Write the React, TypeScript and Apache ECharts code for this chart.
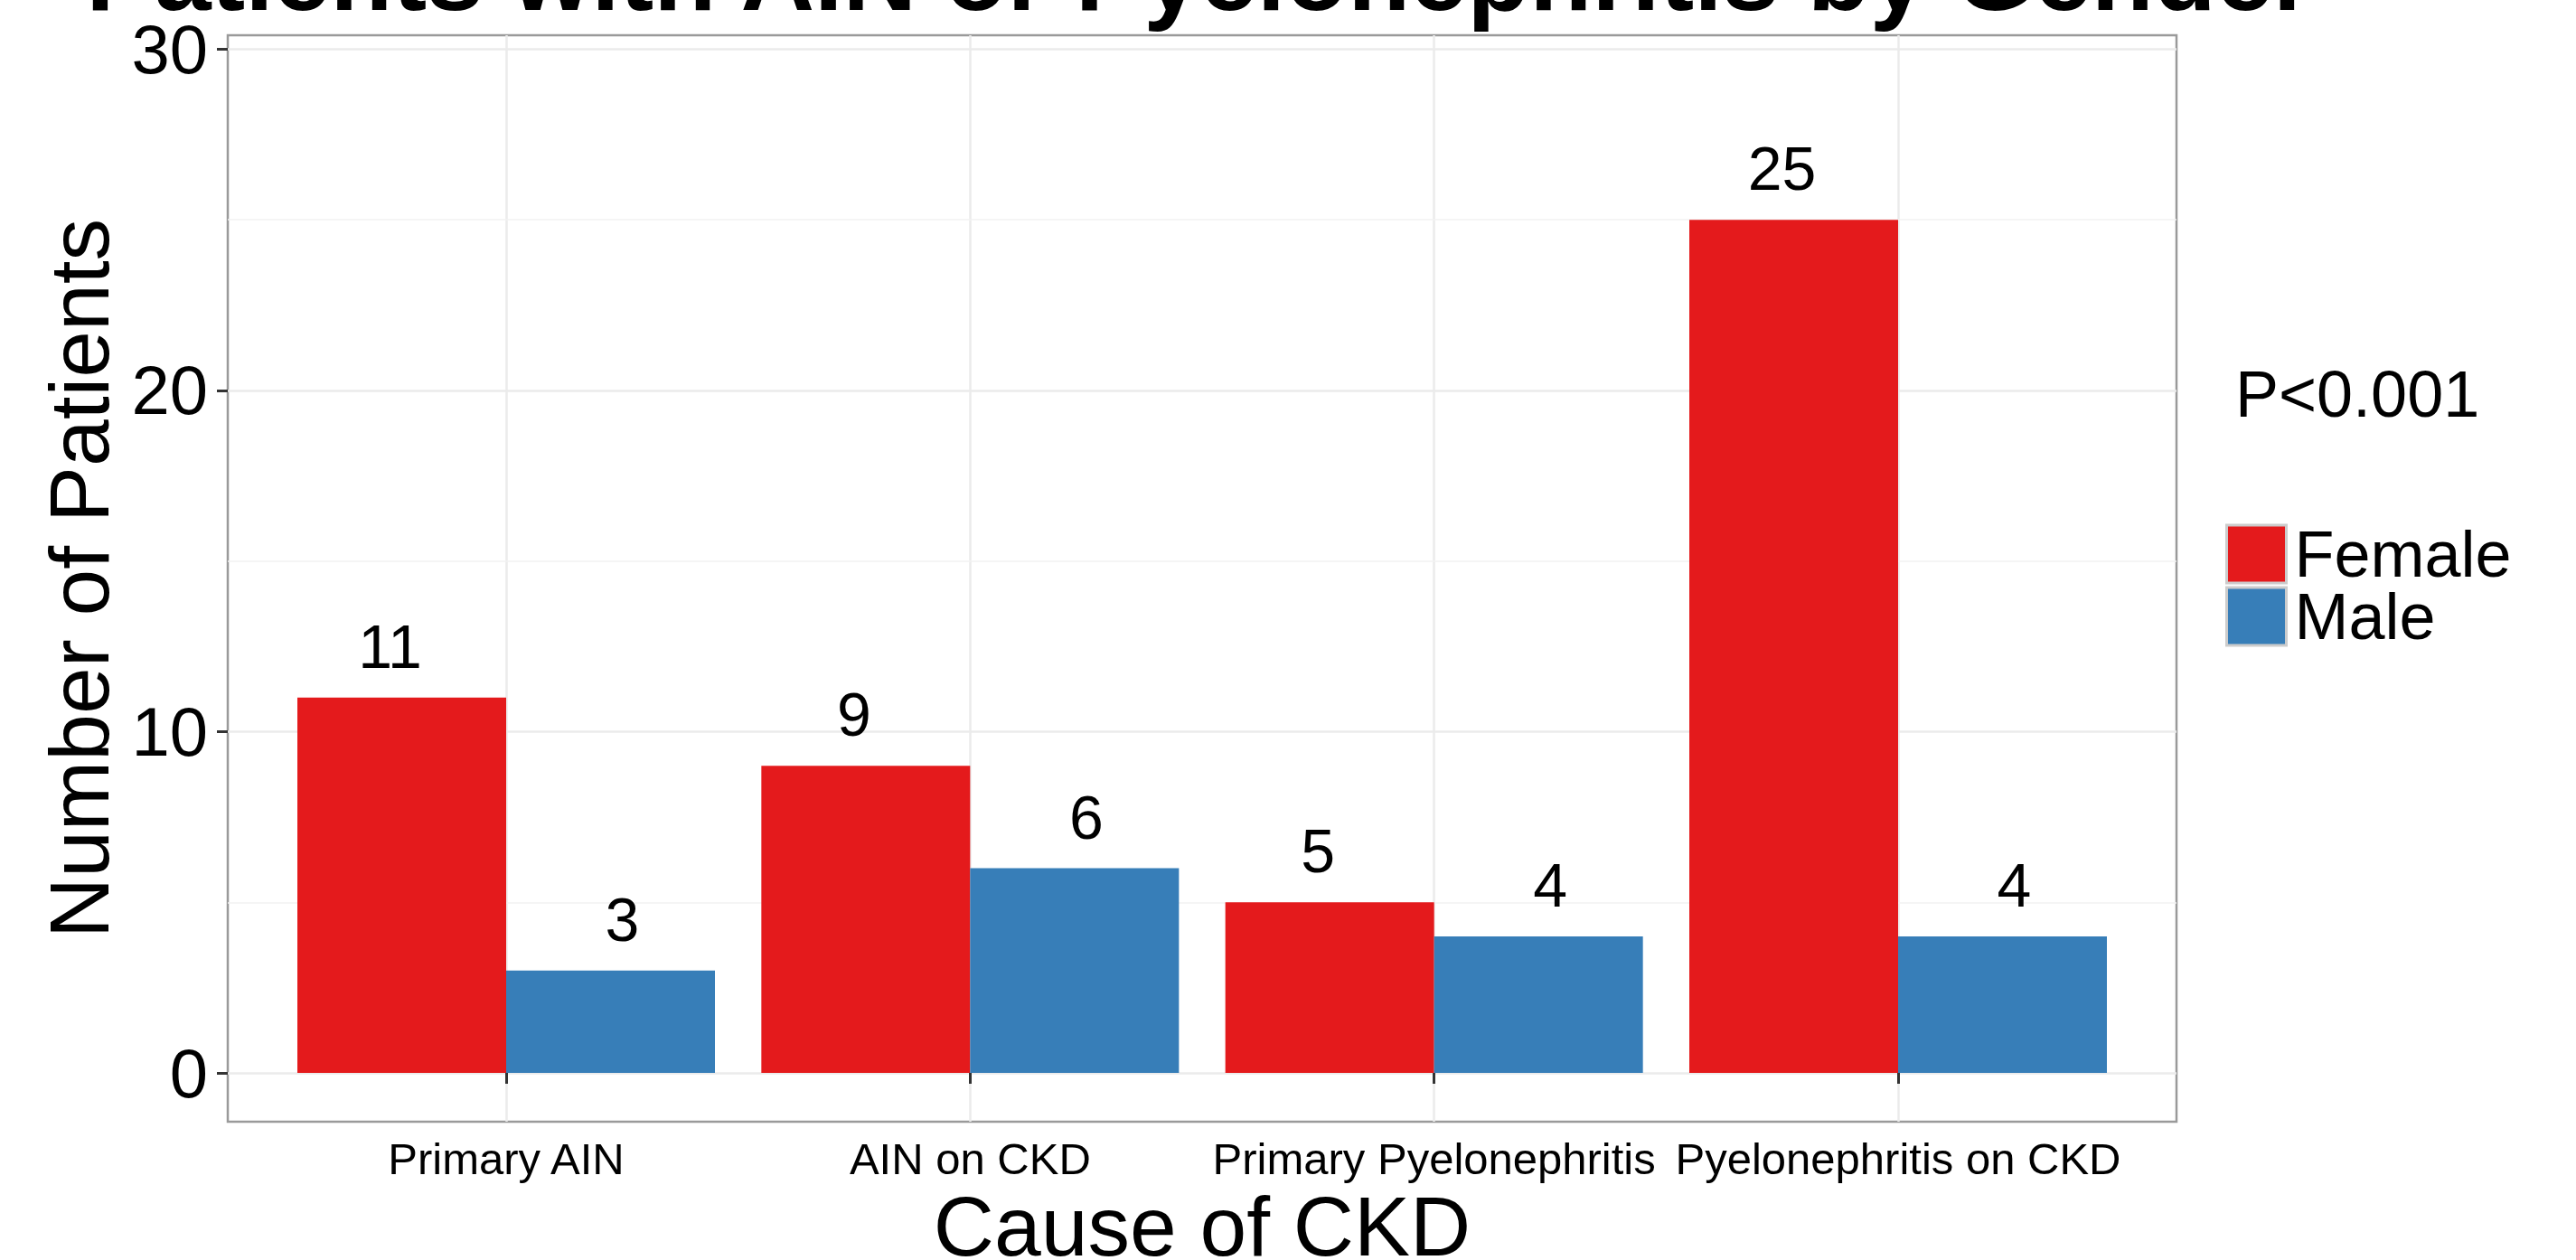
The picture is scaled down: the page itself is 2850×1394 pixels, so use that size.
import React, { useEffect, useRef } from 'react';
import * as echarts from 'echarts';

const categories = ['Primary AIN', 'AIN on CKD', 'Primary Pyelonephritis', 'Pyelonephritis on CKD'];
const female = [11, 9, 5, 25];
const male = [3, 6, 4, 4];
const yMajorTicks = [0, 10, 20, 30];
const yMinorTicks = [5, 15, 25];
const seriesNames = ['Female', 'Male'];
const pValueText = 'P<0.001';
const titleText = 'Patients with AIN or Pyelonephritis by Gender';

const FONT = '"Liberation Sans", Arial, Helvetica, sans-serif';
const RED = '#E41A1C';
const BLUE = '#377EB8';

export default function App() {
  const ref = useRef<HTMLDivElement>(null);
  useEffect(() => {
    const chart = echarts.init(ref.current as HTMLDivElement, null, { renderer: 'svg' });
    const pos = categories.map((_, i) => i + 1);
    const labelCfg = (dx: number) => ({
      show: true,
      position: 'top',
      distance: 23,
      offset: [dx, 0],
      fontSize: 68,
      color: '#000',
      fontFamily: FONT,
      formatter: (p: any) => String(p.value[1]),
    });
    const legendCfg = (name: string, top: number) => ({
      show: true,
      data: [name],
      orient: 'vertical',
      left: 2462,
      top,
      icon: 'rect',
      itemWidth: 66,
      itemHeight: 64,
      itemGap: 0,
      padding: 0,
      itemStyle: { borderColor: '#CCCCCC', borderWidth: 3 },
      textStyle: { fontSize: 72, lineHeight: 64, color: '#000', fontFamily: FONT, padding: [0, 0, 0, 4] },
      selectedMode: false,
    });
    chart.setOption({
      animation: false,
      backgroundColor: '#ffffff',
      textStyle: { fontFamily: FONT },
      grid: {
        left: 252,
        top: 39,
        right: 442,
        bottom: 153,
        show: true,
        borderColor: '#9a9a9a',
        borderWidth: 2.5,
        backgroundColor: 'transparent',
        containLabel: false,
        outerBoundsMode: 'none',
      },
      xAxis: {
        type: 'value',
        min: 0.4,
        max: 4.6,
        axisLine: { show: false },
        axisTick: { show: true, customValues: pos, length: 12, lineStyle: { color: '#333', width: 3 } },
        axisLabel: {
          customValues: pos,
          formatter: (v: number) => categories[Math.round(v) - 1] ?? '',
          fontSize: 49,
          color: '#000',
          margin: 16,
          fontFamily: FONT,
        },
        splitLine: { show: true, lineStyle: { color: '#EBEBEB', width: 2.5 } },
        name: 'Cause of CKD',
        nameLocation: 'middle',
        nameGap: 74,
        nameTextStyle: { fontSize: 93, lineHeight: 70, color: '#000', fontFamily: FONT },
      },
      yAxis: {
        type: 'value',
        min: -1.43,
        max: 30.41,
        axisLine: { show: false },
        axisTick: { show: true, customValues: yMajorTicks, length: 12, lineStyle: { color: '#333', width: 3 } },
        axisLabel: { customValues: yMajorTicks, fontSize: 76, color: '#000', margin: 22, fontFamily: FONT },
        splitLine: { show: true, lineStyle: { color: '#EBEBEB', width: 2.5 } },
        name: 'Number of Patients',
        nameLocation: 'middle',
        nameGap: 110,
        nameTextStyle: { fontSize: 93, color: '#000', fontFamily: FONT },
      },
      legend: [legendCfg(seriesNames[0], 577), legendCfg(seriesNames[1], 646)],
      graphic: [
        {
          type: 'text',
          left: 2473,
          top: 400,
          style: { text: pValueText, fontSize: 72, fill: '#000', fontFamily: FONT },
        },
        {
          type: 'text',
          x: 1327,
          y: -28,
          style: {
            text: titleText,
            fontSize: 113,
            lineHeight: 70,
            fontWeight: 'bold',
            fill: '#000',
            fontFamily: FONT,
            align: 'center',
            verticalAlign: 'middle',
          },
        },
      ],
      series: [
        {
          name: seriesNames[0],
          type: 'bar',
          data: female.map((v, i) => [pos[i], v]),
          barWidth: '45%',
          barGap: '0%',
          itemStyle: { color: RED },
          label: labelCfg(-13),
          z: 2,
          markLine: {
            silent: true,
            symbol: 'none',
            z: 1,
            label: { show: false },
            lineStyle: { color: '#F2F2F2', width: 1.5, type: 'solid' },
            data: yMinorTicks.map((v) => ({ yAxis: v })),
          },
        },
        {
          name: seriesNames[1],
          type: 'bar',
          data: male.map((v, i) => [pos[i], v]),
          barWidth: '45%',
          barGap: '0%',
          itemStyle: { color: BLUE },
          label: labelCfg(13),
          z: 2,
        },
      ],
    });
    return () => chart.dispose();
  }, []);
  return (
    <div
      ref={ref}
      style={{ position: 'fixed', left: 0, top: 0, width: 2850, height: 1394, background: '#fff' }}
    />
  );
}
